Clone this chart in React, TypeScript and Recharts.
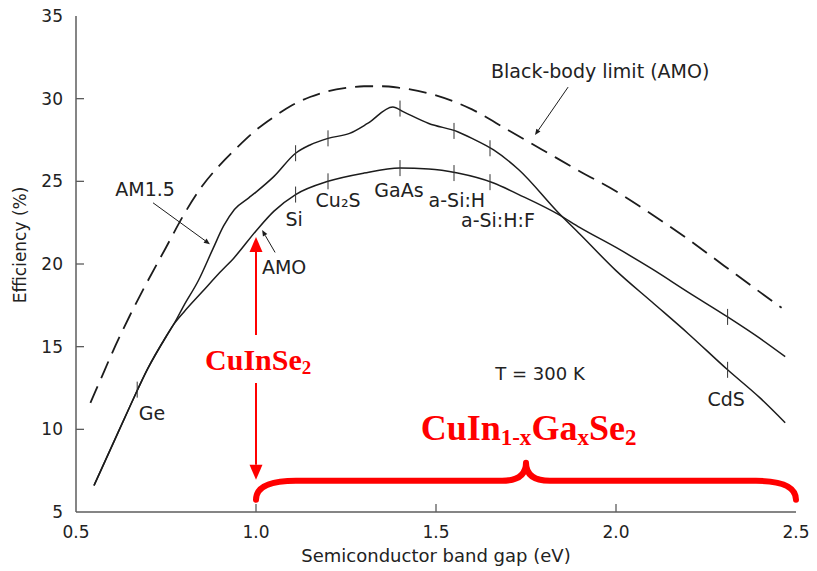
import {
  ComposedChart,
  Line,
  ReferenceDot,
  ReferenceLine,
  Scatter,
  XAxis,
  YAxis,
} from "recharts";

type Pt = [number, number];

// axes
const gapTicks = [0.5, 1.0, 1.5, 2.0, 2.5];
const effTicks = [5, 10, 15, 20, 25, 30, 35];

// black-body limit (AM0), dashed
const blackBody: Pt[] = [
  [0.54, 11.6], [0.57, 13.1], [0.6, 14.6], [0.65, 16.9], [0.7, 19.0], [0.75, 21.0],
  [0.8, 23.0], [0.85, 24.7], [0.9, 26.0], [0.95, 27.1], [1.0, 28.1], [1.05, 28.9],
  [1.1, 29.6], [1.15, 30.1], [1.2, 30.45], [1.25, 30.65], [1.3, 30.75], [1.35, 30.75],
  [1.4, 30.65], [1.5, 30.2], [1.6, 29.35], [1.7, 28.1], [1.8, 26.85], [1.9, 25.6],
  [2.0, 24.4], [2.1, 23.0], [2.2, 21.5], [2.3, 19.9], [2.4, 18.3], [2.46, 17.35],
];

// AM1.5 spectrum
const am15: Pt[] = [
  [0.55, 6.6], [0.6, 9.0], [0.65, 11.4], [0.7, 13.7], [0.75, 15.6], [0.77, 16.3],
  [0.8, 17.5], [0.84, 19.0], [0.88, 20.9], [0.91, 22.3], [0.94, 23.3], [0.98, 24.0],
  [1.0, 24.35], [1.05, 25.3], [1.11, 26.7], [1.15, 27.2], [1.2, 27.6], [1.26, 27.9],
  [1.31, 28.5], [1.38, 29.5], [1.41, 29.2], [1.48, 28.5], [1.56, 28.0], [1.6, 27.6],
  [1.66, 26.9], [1.73, 25.7], [1.84, 23.1], [1.9, 21.8], [2.0, 19.6], [2.1, 17.7],
  [2.2, 15.8], [2.31, 13.6], [2.4, 11.9], [2.47, 10.4],
];

// AM0 spectrum
const amo: Pt[] = [
  [0.55, 6.6], [0.6, 9.0], [0.65, 11.4], [0.7, 13.7], [0.75, 15.6], [0.77, 16.3],
  [0.8, 17.1], [0.85, 18.3], [0.9, 19.5], [0.94, 20.4], [1.0, 22.0], [1.05, 23.2],
  [1.11, 24.2], [1.2, 25.0], [1.3, 25.5], [1.4, 25.8], [1.48, 25.75], [1.56, 25.5],
  [1.66, 24.9], [1.73, 24.2], [1.84, 23.0], [1.9, 22.2], [2.0, 21.0], [2.1, 19.7],
  [2.2, 18.3], [2.31, 16.8], [2.4, 15.5], [2.47, 14.4],
];

// material band gaps marked on each curve
const am15Marks: Pt[] = [
  [0.67, 12.4], [1.11, 26.7], [1.2, 27.6], [1.4, 29.4], [1.55, 28.05], [1.65, 27.0], [2.31, 13.6],
];
const amoMarks: Pt[] = [
  [1.11, 24.2], [1.2, 25.0], [1.4, 25.8], [1.55, 25.5], [1.65, 24.95], [2.31, 16.8],
];

const labels: { text: string; x: number; y: number; size: number }[] = [
  { text: "AM1.5", x: 0.692, y: 24.52, size: 19 },
  { text: "Ge", x: 0.711, y: 11.0, size: 19 },
  { text: "Si", x: 1.106, y: 22.72, size: 19 },
  { text: "Cu\u2082S", x: 1.228, y: 23.87, size: 19 },
  { text: "GaAs", x: 1.397, y: 24.47, size: 19 },
  { text: "a-Si:H", x: 1.558, y: 23.87, size: 19 },
  { text: "a-Si:H:F", x: 1.672, y: 22.66, size: 19 },
  { text: "AMO", x: 1.078, y: 19.82, size: 19 },
  { text: "CdS", x: 2.306, y: 11.84, size: 19 },
  { text: "T = 300 K", x: 1.789, y: 13.35, size: 18 },
  { text: "Black-body limit (AMO)", x: 1.956, y: 31.66, size: 19 },
];

const pointers: { from: Pt; to: Pt }[] = [
  { from: [0.714, 23.7], to: [0.872, 21.2] },
  { from: [1.053, 20.7], to: [1.017, 22.05] },
  { from: [1.867, 30.7], to: [1.775, 27.8] },
];

const toXY = (pts: Pt[]) => pts.map(([x, y]) => ({ x, y }));

const AXIS = "#5c5c5c";
const INK = "#1c1c1c";
const RED = "#ff0000";
const FONT = "DejaVu Sans";

function BottomTick({ x, y, payload }: any) {
  const v = payload.value;
  const edge = v === 0.5 || v === 2.5;
  return (
    <g>
      {!edge && <line x1={x} y1={y} x2={x} y2={y - 8} stroke={AXIS} strokeWidth={1.3} />}
      <text x={x} y={y + 20} textAnchor="middle" dominantBaseline="central" fontFamily={FONT} fontSize={17} fill="#222">
        {v.toFixed(1)}
      </text>
    </g>
  );
}

function TopTick({ x, y, payload }: any) {
  const v = payload.value;
  if (v === 0.5 || v === 2.5) return <g />;
  return <line x1={x} y1={y} x2={x} y2={y + 8} stroke={AXIS} strokeWidth={1.3} />;
}

function LeftTick({ x, y, payload }: any) {
  const v = payload.value;
  const edge = v === 5 || v === 35;
  return (
    <g>
      {!edge && <line x1={x} y1={y} x2={x + 8} y2={y} stroke={AXIS} strokeWidth={1.3} />}
      <text x={x - 13} y={y} textAnchor="end" dominantBaseline="central" fontFamily={FONT} fontSize={17} fill="#222">
        {v}
      </text>
    </g>
  );
}

function RightTick({ x, y, payload }: any) {
  const v = payload.value;
  if (v === 5 || v === 35) return <g />;
  return <line x1={x} y1={y} x2={x - 11} y2={y} stroke={AXIS} strokeWidth={1.3} />;
}

function YTitle({ viewBox }: any) {
  const cx = viewBox.x + 4;
  const cy = viewBox.y + viewBox.height / 2 - 19;
  return (
    <text
      x={cx}
      y={cy}
      transform={`rotate(-90, ${cx}, ${cy})`}
      textAnchor="middle"
      dominantBaseline="central"
      fontFamily={FONT}
      fontSize={17}
      fill="#222"
    >
      Efficiency (%)
    </text>
  );
}

function GapMark({ cx, cy }: any) {
  return <line x1={cx} y1={cy - 8} x2={cx} y2={cy + 8} stroke="#333" strokeWidth={1} />;
}

const arrowShape = (color: string, width: number, len: number, half: number) => (p: any) => {
  const { x1, y1, x2, y2 } = p;
  const dx = x2 - x1;
  const dy = y2 - y1;
  const d = Math.hypot(dx, dy) || 1;
  const ux = dx / d;
  const uy = dy / d;
  const bx = x2 - ux * len;
  const by = y2 - uy * len;
  return (
    <g>
      <line x1={x1} y1={y1} x2={bx} y2={by} stroke={color} strokeWidth={width} />
      <polygon
        points={`${x2},${y2} ${bx - uy * half},${by + ux * half} ${bx + uy * half},${by - ux * half}`}
        fill={color}
      />
    </g>
  );
};

const pointerArrow = arrowShape(INK, 1, 6, 2.5);
const redArrow = arrowShape(RED, 2, 15, 6.5);

// curly brace spanning the CuIn(1-x)Ga(x)Se2 band-gap range
function Brace(p: any) {
  const { x1, x2, y1 } = p;
  const mid = (x1 + x2) / 2;
  const sh = y1 - 19;
  const tip = y1 - 37;
  const d =
    `M${x1},${y1} Q${x1},${sh} ${x1 + 40},${sh} L${mid - 24},${sh} ` +
    `Q${mid},${sh} ${mid},${tip} Q${mid},${sh} ${mid + 24},${sh} ` +
    `L${x2 - 40},${sh} Q${x2},${sh} ${x2},${y1}`;
  return <path d={d} fill="none" stroke={RED} strokeWidth={6} strokeLinecap="round" strokeLinejoin="round" />;
}

const redText = { fontFamily: "Liberation Serif", fontWeight: 700, fill: RED } as const;

export default function App() {
  return (
    <div style={{ position: "absolute", left: 0, top: 0, width: 817, height: 571, background: "#fff" }}>
      <ComposedChart width={817} height={571} margin={{ top: 16, right: 21, bottom: 9, left: 16 }}>
        <XAxis
          type="number"
          dataKey="x"
          domain={[0.5, 2.5]}
          ticks={gapTicks}
          interval={0}
          allowDataOverflow
          height={50}
          tickSize={0}
          tickMargin={0}
          tickLine={false}
          tick={BottomTick}
          axisLine={{ stroke: AXIS, strokeWidth: 1.5 }}
          label={{
            value: "Semiconductor band gap (eV)",
            position: "insideBottom",
            offset: 0,
            fontFamily: FONT,
            fontSize: 18,
            fill: "#222",
          }}
        />
        <XAxis
          xAxisId="t"
          orientation="top"
          type="number"
          domain={[0.5, 2.5]}
          ticks={gapTicks}
          interval={0}
          allowDataOverflow
          height={0}
          tickSize={0}
          tickMargin={0}
          tickLine={false}
          tick={TopTick}
          axisLine={{ stroke: AXIS, strokeWidth: 1.5 }}
        />
        <YAxis
          type="number"
          domain={[5, 35]}
          ticks={effTicks}
          interval={0}
          allowDataOverflow
          width={60}
          tickSize={0}
          tickMargin={0}
          tickLine={false}
          tick={LeftTick}
          axisLine={{ stroke: AXIS, strokeWidth: 1.5 }}
          label={{ content: YTitle }}
        />
        <YAxis
          yAxisId="r"
          orientation="right"
          type="number"
          domain={[5, 35]}
          ticks={effTicks}
          interval={0}
          allowDataOverflow
          width={0}
          tickSize={0}
          tickMargin={0}
          tickLine={false}
          tick={RightTick}
          axisLine={{ stroke: AXIS, strokeWidth: 1.5 }}
        />

        <Line
          data={toXY(blackBody)}
          dataKey="y"
          type="monotone"
          stroke={INK}
          strokeWidth={1.8}
          strokeDasharray="18 9"
          dot={false}
          isAnimationActive={false}
        />
        <Line data={toXY(amo)} dataKey="y" type="monotone" stroke={INK} strokeWidth={1.5} dot={false} isAnimationActive={false} />
        <Line data={toXY(am15)} dataKey="y" type="monotone" stroke={INK} strokeWidth={1.5} dot={false} isAnimationActive={false} />

        <Scatter data={toXY(am15Marks)} dataKey="y" shape={GapMark} isAnimationActive={false} />
        <Scatter data={toXY(amoMarks)} dataKey="y" shape={GapMark} isAnimationActive={false} />

        {pointers.map((p, i) => (
          <ReferenceLine
            key={`ptr-${i}`}
            segment={[
              { x: p.from[0], y: p.from[1] },
              { x: p.to[0], y: p.to[1] },
            ]}
            shape={pointerArrow}
          />
        ))}

        {labels.map((l) => (
          <ReferenceDot
            key={l.text}
            x={l.x}
            y={l.y}
            r={0}
            ifOverflow="visible"
            shape={(p: any) => (
              <text
                x={p.cx}
                y={p.cy}
                textAnchor="middle"
                dominantBaseline="central"
                fontFamily={FONT}
                fontSize={l.size}
                fill="#222"
              >
                {l.text}
              </text>
            )}
          />
        ))}

        {/* CuInSe2 band gap at 1.0 eV */}
        <ReferenceLine segment={[{ x: 1.0, y: 15.7 }, { x: 1.0, y: 21.63 }]} shape={redArrow} />
        <ReferenceLine segment={[{ x: 1.0, y: 12.8 }, { x: 1.0, y: 6.95 }]} shape={redArrow} />
        <ReferenceLine segment={[{ x: 1.0, y: 5.74 }, { x: 2.5, y: 5.74 }]} shape={Brace} />

        <ReferenceDot
          x={1.006}
          y={13.59}
          r={0}
          ifOverflow="visible"
          shape={(p: any) => (
            <text x={p.cx} y={p.cy} textAnchor="middle" fontSize={30} {...redText}>
              CuInSe
              <tspan fontSize={19} dy={4}>2</tspan>
            </text>
          )}
        />
        <ReferenceDot
          x={1.757}
          y={9.36}
          r={0}
          ifOverflow="visible"
          shape={(p: any) => (
            <text x={p.cx} y={p.cy} textAnchor="middle" fontSize={36} {...redText}>
              CuIn
              <tspan fontSize={23} dy={5}>1-x</tspan>
              <tspan dy={-5}>Ga</tspan>
              <tspan fontSize={23} dy={5}>x</tspan>
              <tspan dy={-5}>Se</tspan>
              <tspan fontSize={23} dy={5}>2</tspan>
            </text>
          )}
        />
      </ComposedChart>
    </div>
  );
}
